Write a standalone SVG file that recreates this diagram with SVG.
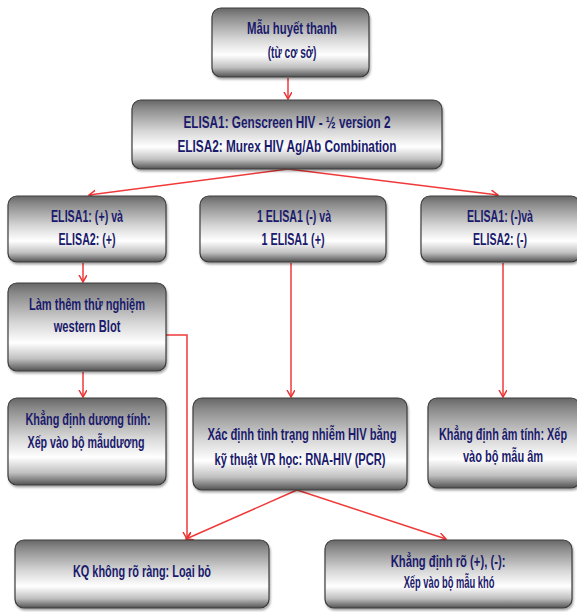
<svg xmlns="http://www.w3.org/2000/svg" width="577" height="612" viewBox="0 0 577 612">
<defs>
<linearGradient id="g" x1="0" y1="0" x2="0" y2="1">
<stop offset="0" stop-color="#666666"/>
<stop offset="0.12" stop-color="#8a8a8a"/>
<stop offset="0.45" stop-color="#d6d6d6"/>
<stop offset="0.68" stop-color="#ffffff"/>
<stop offset="0.86" stop-color="#c0c0c0"/>
<stop offset="1" stop-color="#525252"/>
</linearGradient>
<filter id="sh" x="-5%" y="-5%" width="110%" height="120%">
<feDropShadow dx="1" dy="2" stdDeviation="1.2" flood-color="#000" flood-opacity="0.35"/>
</filter>
<marker id="ah" markerUnits="userSpaceOnUse" markerWidth="10" markerHeight="10" refX="7" refY="4" orient="auto">
<path d="M0,0 L7,4 L0,8" fill="none" stroke="#ee3030" stroke-width="1.5"/>
</marker>
</defs>
<style>
.box{fill:url(#g);stroke:#3c3c3c;stroke-width:1.2;filter:url(#sh)}
.t{font-family:"Liberation Sans",Arial,sans-serif;font-weight:bold;font-size:16px;fill:#1a1a6c;text-anchor:middle}
.c{fill:none;stroke:#f03a3a;stroke-width:1.5}
.a{marker-end:url(#ah)}
</style>
<rect width="577" height="612" fill="#ffffff"/>
<g id="connectors">
<line class="c a" x1="288" y1="78" x2="288" y2="99"/>
<line class="c a" x1="288" y1="169" x2="89" y2="195"/>
<line class="c a" x1="288" y1="169" x2="498" y2="195"/>
<line class="c a" x1="83" y1="263" x2="83" y2="282"/>
<line class="c a" x1="291" y1="263" x2="291" y2="397"/>
<line class="c a" x1="503" y1="263" x2="503" y2="397"/>
<line class="c a" x1="83" y1="372" x2="83" y2="397"/>
<polyline class="c a" points="166,335 187,335 187,539"/>
<line class="c a" x1="297" y1="490" x2="186" y2="539"/>
<line class="c a" x1="297" y1="490" x2="446" y2="539"/>
</g>
<g id="n1">
<rect class="box" x="212" y="8" width="157" height="69" rx="9"/>
<text class="t" transform="translate(292 0) scale(0.75 1)" x="0" y="34" textLength="120" lengthAdjust="spacingAndGlyphs">Mẫu huyết thanh</text>
<text class="t" transform="translate(292 0) scale(0.75 1)" x="0" y="58" textLength="65" lengthAdjust="spacingAndGlyphs">(từ cơ sở)</text>
</g>
<g id="n2">
<rect class="box" x="132" y="100" width="310" height="69" rx="9"/>
<text class="t" transform="translate(287 0) scale(0.75 1)" x="0" y="128" textLength="276" lengthAdjust="spacingAndGlyphs">ELISA1: Genscreen HIV - ½ version 2</text>
<text class="t" transform="translate(287 0) scale(0.75 1)" x="0" y="152" textLength="292" lengthAdjust="spacingAndGlyphs">ELISA2: Murex HIV Ag/Ab Combination</text>
</g>
<g id="n3a">
<rect class="box" x="8" y="196" width="158" height="66" rx="9"/>
<text class="t" transform="translate(87 0) scale(0.75 1)" x="0" y="222" textLength="96" lengthAdjust="spacingAndGlyphs">ELISA1: (+) và</text>
<text class="t" transform="translate(87 0) scale(0.75 1)" x="0" y="245" textLength="76" lengthAdjust="spacingAndGlyphs">ELISA2: (+)</text>
</g>
<g id="n3b">
<rect class="box" x="200" y="196" width="186" height="66" rx="9"/>
<text class="t" transform="translate(294 0) scale(0.75 1)" x="0" y="222" textLength="99" lengthAdjust="spacingAndGlyphs">1 ELISA1 (-) và</text>
<text class="t" transform="translate(293 0) scale(0.75 1)" x="0" y="245" textLength="84" lengthAdjust="spacingAndGlyphs">1 ELISA1 (+)</text>
</g>
<g id="n3c">
<rect class="box" x="421" y="196" width="159" height="66" rx="9"/>
<text class="t" transform="translate(500 0) scale(0.75 1)" x="0" y="222" textLength="88" lengthAdjust="spacingAndGlyphs">ELISA1: (-)và</text>
<text class="t" transform="translate(500 0) scale(0.75 1)" x="0" y="245" textLength="72" lengthAdjust="spacingAndGlyphs">ELISA2: (-)</text>
</g>
<g id="n4">
<rect class="box" x="8" y="283" width="158" height="88" rx="9"/>
<text class="t" transform="translate(87 0) scale(0.75 1)" x="0" y="310" textLength="155" lengthAdjust="spacingAndGlyphs">Làm thêm thử nghiệm</text>
<text class="t" transform="translate(87 0) scale(0.75 1)" x="0" y="332" textLength="89" lengthAdjust="spacingAndGlyphs">western Blot</text>
</g>
<g id="n5a">
<rect class="box" x="8" y="398" width="158" height="87" rx="9"/>
<text class="t" transform="translate(88 0) scale(0.75 1)" x="0" y="425" textLength="167" lengthAdjust="spacingAndGlyphs">Khẳng định dương tính:</text>
<text class="t" transform="translate(86 0) scale(0.75 1)" x="0" y="448" textLength="156" lengthAdjust="spacingAndGlyphs">Xếp vào bộ mẫudương</text>
</g>
<g id="n5b">
<rect class="box" x="193" y="398" width="214" height="92" rx="9"/>
<text class="t" transform="translate(302 0) scale(0.75 1)" x="0" y="440" textLength="252" lengthAdjust="spacingAndGlyphs">Xác định tình trạng nhiễm HIV bằng</text>
<text class="t" transform="translate(300 0) scale(0.75 1)" x="0" y="465" textLength="228" lengthAdjust="spacingAndGlyphs">kỹ thuật VR học: RNA-HIV  (PCR)</text>
</g>
<g id="n5c">
<rect class="box" x="428" y="398" width="152" height="90" rx="9"/>
<text class="t" transform="translate(503 0) scale(0.66 1)" x="0" y="440" textLength="194" lengthAdjust="spacingAndGlyphs">Khẳng định âm tính: Xếp</text>
<text class="t" transform="translate(503 0) scale(0.75 1)" x="0" y="462" textLength="107" lengthAdjust="spacingAndGlyphs">vào bộ mẫu âm</text>
</g>
<g id="n6a">
<rect class="box" x="15" y="540" width="254" height="68" rx="9"/>
<text class="t" transform="translate(142 0) scale(0.75 1)" x="0" y="577" textLength="184" lengthAdjust="spacingAndGlyphs">KQ không rõ ràng: Loại bỏ</text>
</g>
<g id="n6b">
<rect class="box" x="325" y="540" width="247" height="68" rx="9"/>
<text class="t" transform="translate(448 0) scale(0.75 1)" x="0" y="567" textLength="153" lengthAdjust="spacingAndGlyphs">Khẳng định rõ (+), (-):</text>
<text class="t" transform="translate(449 0) scale(0.75 1)" x="0" y="588" textLength="121" lengthAdjust="spacingAndGlyphs">Xếp vào bộ mẫu khó</text>
</g>
</svg>
